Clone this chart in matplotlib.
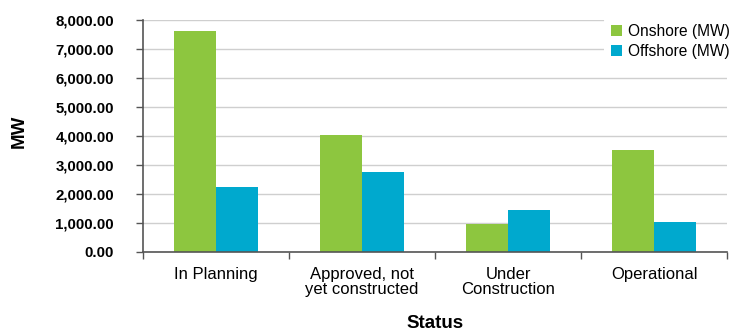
import matplotlib
matplotlib.use("Agg")
import matplotlib.pyplot as plt
import numpy as np
from matplotlib.ticker import FuncFormatter, FixedLocator

categories = ["In Planning", "Approved, not\nyet constructed", "Under\nConstruction", "Operational"]
onshore = [7620, 4020, 965, 3515]
offshore = [2250, 2755, 1460, 1035]
series_names = ["Onshore (MW)", "Offshore (MW)"]
colors = ["#8DC63F", "#00A9CE"]

plt.rcParams['font.family'] = ['Liberation Sans', 'DejaVu Sans']

fig = plt.figure(figsize=(7.30, 3.31), dpi=100)
ax = fig.add_axes([0.196, 0.239, 0.800, 0.701])

x = np.arange(len(categories))
w = 0.29
ax.bar(x - w/2, onshore, width=w, color=colors[0], label=series_names[0], zorder=3)
ax.bar(x + w/2, offshore, width=w, color=colors[1], label=series_names[1], zorder=3)

ax.set_xlim(-0.5, len(categories) - 0.5)
ax.set_ylim(0, 8000)
ax.set_yticks(np.arange(0, 8001, 1000))
ax.yaxis.set_major_formatter(FuncFormatter(lambda v, p: f"{v:,.2f}"))
for lab in ax.get_yticklabels():
    lab.set_fontweight('bold')
ax.tick_params(axis='y', labelsize=10.8, length=5, width=1, color='#555555', pad=16)

ax.set_xticks(x)
ax.set_xticklabels(categories, fontsize=12, linespacing=0.95)
ax.tick_params(axis='x', which='major', length=0, pad=11)
ax.xaxis.set_minor_locator(FixedLocator(np.arange(-0.5, len(categories), 1.0)))
ax.tick_params(axis='x', which='minor', length=5, width=1, color='#555555')

ax.grid(axis='y', color='#CFCFCF', linewidth=1, zorder=0)
for s in ['top', 'right']:
    ax.spines[s].set_visible(False)
for s in ['left', 'bottom']:
    ax.spines[s].set_color('#555555')
    ax.spines[s].set_linewidth(1.2)
ax.spines['bottom'].set_zorder(4)

ax.set_ylabel("MW", fontsize=13.5, fontweight='bold')
ax.yaxis.set_label_coords(-0.198, 0.52)
ax.set_xlabel("Status", fontsize=13.5, fontweight='bold', labelpad=13)

leg = ax.legend(loc='upper right', bbox_to_anchor=(1.015, 1.01), fontsize=11.2,
                frameon=True, handlelength=0.75, handleheight=0.75,
                handletextpad=0.35, labelspacing=0.35, borderpad=0.4, borderaxespad=0.0)
leg.get_frame().set_facecolor('white')
leg.get_frame().set_edgecolor('none')
leg.get_frame().set_alpha(1)
leg.set_zorder(5)

fig.savefig("out.png", dpi=100)
